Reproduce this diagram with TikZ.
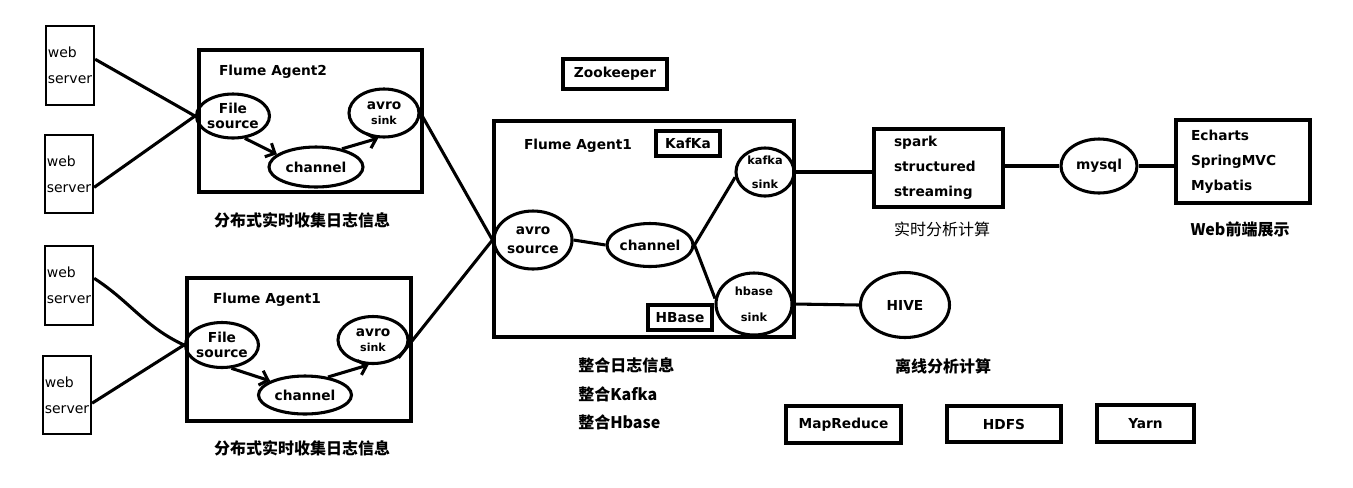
\documentclass[tikz,border=0pt]{standalone}
\usepackage{fontspec}
\setmainfont{DejaVu Sans}
\newfontfamily\cjk{Noto Sans CJK SC}
\usetikzlibrary{shapes.geometric,arrows.meta,calc}
\begin{document}
\begin{tikzpicture}[x=0.75pt,y=-0.75pt,
  sz/.style 2 args={minimum width=#1*0.75pt, minimum height=#2*0.75pt},
  box/.style={draw, line width=2.4pt, inner sep=0pt, align=center, font=\bfseries\fontsize{10.3}{12}\selectfont},
  wsbox/.style={draw, line width=1.7pt, inner sep=0pt, align=left, font=\fontsize{10.5}{19.5}\selectfont},
  el/.style={ellipse, draw, line width=2.3pt, inner sep=0pt, align=center, font=\bfseries\fontsize{10.3}{11.25}\selectfont},
  lbl/.style={inner sep=0pt, font=\bfseries\fontsize{10.3}{12}\selectfont},
  cn/.style={inner sep=0pt, font=\cjk\bfseries\fontsize{12}{14}\selectfont},
  ln/.style={line width=2.3pt},
  arr/.style={line width=2.3pt, -{Straight Barb[angle=90:8pt]}}
]
\useasboundingbox (0,0) rectangle (1353,487);
\fill[white] (0,0) rectangle (1353,487);

% web servers
\node[wsbox, sz={48}{79}] (ws1) at (70,65.5) {web\\server};
\node[wsbox, sz={48}{78}] (ws2) at (69,174) {web\\server};
\node[wsbox, sz={48}{79}] (ws3) at (69,285.5) {web\\server};
\node[wsbox, sz={48}{78}] (ws4) at (67,395) {web\\server};

% Flume Agent2
\node[box, sz={223}{142}] (fa2) at (310.5,121) {};
\node[lbl] (fa2t) at (273,72) {Flume Agent2};
\node[el, sz={70}{44}] (fs2) at (233,116) {File\\source};
\node[el, sz={94}{40}] (ch2) at (316,167) {channel};
\node[el, sz={70}{48}] (as2) at (384,113) {avro\\{\fontsize{8.3}{10}\selectfont sink}};
\node[cn] (cap2) at (302,220) {分布式实时收集日志信息};

% Flume Agent1 (lower)
\node[box, sz={224}{143}] (fa1) at (299,349.5) {};
\node[lbl] (fa1t) at (267,300) {Flume Agent1};
\node[el, sz={70}{45}] (fs1) at (222,345) {File\\source};
\node[el, sz={93}{38}] (ch1) at (305,395) {channel};
\node[el, sz={70}{47}] (as1) at (373,340) {avro\\{\fontsize{8.3}{10}\selectfont sink}};
\node[cn] (cap1) at (302,448) {分布式实时收集日志信息};

% connectors web servers
\draw[ln] (ws1.14) -- (fs2.west);
\draw[ln] (ws2.-28) -- (fs2.west);
\draw[ln] (ws3.16) to[out=-33,in=155] (fs1.west);
\draw[ln] (ws4.-18) -- (fs1.west);

\draw[arr] (fs2.-62) -- (ch2.162);
\draw[arr] (ch2.35) -- (as2.-103);
\draw[arr] (fs1.-68) -- (ch1.158);
\draw[arr] (ch1.38) -- (as1.-100);

% Zookeeper
\node[box, sz={104}{30}] (zk) at (615,74) {Zookeeper};

% big Flume Agent1
\node[box, sz={300}{216}] (fa) at (644,229) {};
\node[lbl] (fat) at (578,146) {Flume Agent1};
\node[box, sz={64}{25}] (kk) at (688,143.5) {KafKa};
\node[box, sz={64}{25}] (hb) at (680,317.5) {HBase};
\node[el, sz={78}{58}, font=\bfseries\fontsize{10.3}{14.25}\selectfont] (avs) at (533,240) {avro\\source};
\node[el, sz={74}{43}] (ch3) at (650,245) {channel};
\node[el, sz={58}{48}, font=\bfseries\fontsize{8.5}{18}\selectfont] (ks) at (765,172) {kafka\\sink};
\node[el, sz={76}{62}, font=\bfseries\fontsize{8.5}{19.5}\selectfont] (hs) at (754,304) {hbase\\sink};

\draw[ln] (as2.east) -- (avs.west);
\draw[ln] (as1.-35) -- (avs.west);
\draw[ln] (avs.east) -- (ch3.west);
\draw[ln] (ch3.east) -- (ks.190);
\draw[ln] (ch3.east) -- (hs.172);

% right part
\node[box, sz={129}{78}, align=left, text width=89*0.75pt, font=\bfseries\fontsize{10.3}{18.75}\selectfont] (sp) at (938.5,168) {spark\\structured\\streaming};
\node[el, sz={76}{54}] (my) at (1099,166) {mysql};
\node[box, sz={134}{83}, align=left, text width=104*0.75pt, font=\bfseries\fontsize{10.3}{18.75}\selectfont] (ec) at (1243,161.5) {Echarts\\SpringMVC\\Mybatis};
\node[el, sz={89}{65}] (hv) at (905,305) {HIVE};

\draw[ln] (ks.east) -- (ks.east -| sp.west);
\draw[ln] (hs.east) -- (hv.west);
\draw[ln] (sp.east |- my.west) -- (my.west);
\draw[ln] (my.east) -- (my.east -| ec.west);

\node[cn, font=\cjk\fontsize{12}{14}\selectfont] (rt) at (942,229) {实时分析计算};
\node[cn] (wb) at (1240,229) {Web前端展示};
\node[cn] (lx) at (943,366) {离线分析计算};

\node[cn, anchor=west] (zh1) at (578,365) {整合日志信息};
\node[cn, anchor=west] (zh2) at (578,394) {整合Kafka};
\node[cn, anchor=west] (zh3) at (578,422) {整合Hbase};

\node[box, sz={115}{37}] (mr) at (843.5,424.5) {MapReduce};
\node[box, sz={114}{36}] (hd) at (1004,424) {HDFS};
\node[box, sz={97}{37}] (yn) at (1145.5,423.5) {Yarn};
\end{tikzpicture}
\end{document}
